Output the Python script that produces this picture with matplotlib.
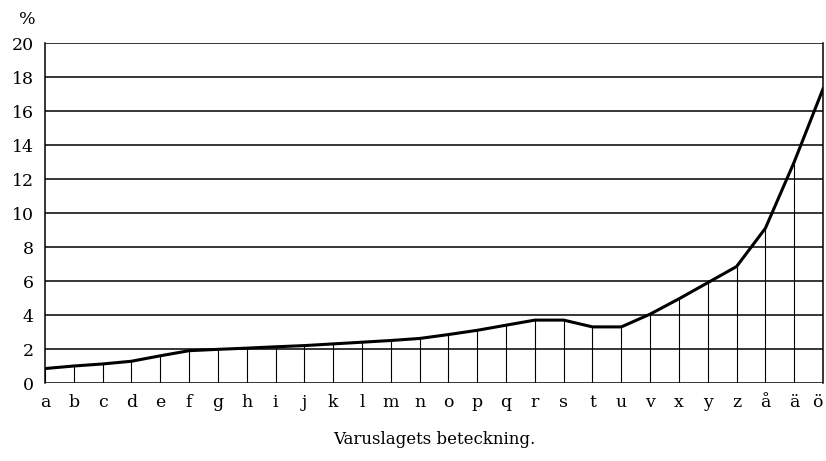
import matplotlib

matplotlib.use("Agg")
import matplotlib.pyplot as plt
import matplotlib.transforms as mtransforms

# Varuslag a..ö and their percentage values
categories = list("abcdefghijklmnopqrstuvxyzåäö")
values = [0.85, 1.0, 1.12, 1.28, 1.6, 1.9, 1.98, 2.05, 2.13, 2.2, 2.3, 2.4, 2.5,
          2.62, 2.85, 3.1, 3.4, 3.7, 3.7, 3.3, 3.3, 4.05, 4.95, 5.9, 6.85, 9.1, 13.0, 17.3]
y_ticks = [0, 2, 4, 6, 8, 10, 12, 14, 16, 18, 20]

plt.rcParams["font.family"] = ["DejaVu Serif"]

fig = plt.figure(figsize=(8.26, 4.61), dpi=100)
ax = fig.add_axes([45 / 826, 1 - 383 / 461, 778 / 826, 340 / 461])

x = list(range(len(categories)))

# horizontal rulings
for yv in y_ticks:
    ax.axhline(yv, color="black", linewidth=1.1, zorder=1)

# vertical drop lines under each point
ax.vlines(x, 0, values, color="black", linewidth=0.8, zorder=1)

ax.plot(x, values, color="black", linewidth=2.2, solid_joinstyle="round", zorder=3)

ax.set_xlim(0, len(categories) - 1)
ax.set_ylim(0, 20)
ax.set_xticks(x)
ax.set_xticklabels(categories, fontsize=12.5)
ax.set_yticks(y_ticks)
ax.set_yticklabels([str(v) for v in y_ticks], fontsize=12.5)
ax.tick_params(length=0, pad=8)
for side in ["top", "bottom"]:
    ax.spines[side].set_visible(False)
for side in ["left", "right"]:
    ax.spines[side].set_linewidth(1.1)

# last label sits just inside the right edge, as in the original
last = ax.get_xticklabels()[-1]
last.set_transform(last.get_transform() + mtransforms.ScaledTranslation(-0.06, 0, fig.dpi_scale_trans))

ax.set_xlabel("Varuslagets beteckning.", fontsize=12, labelpad=14)
fig.text(27 / 826, 1 - 20 / 461, "%", fontsize=12.5, ha="center", va="center")

plt.savefig("out.png", dpi=100)
plt.close()
